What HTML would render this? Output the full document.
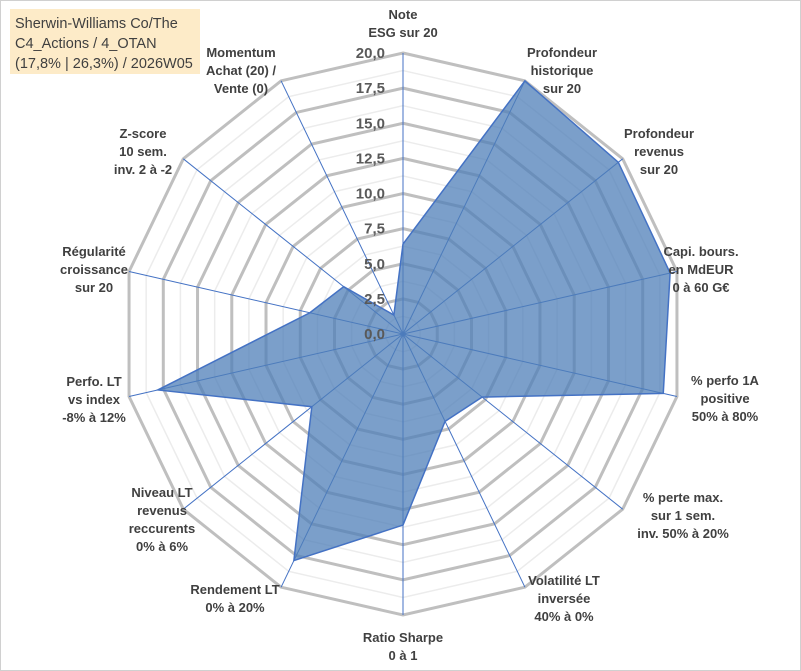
<!DOCTYPE html>
<html><head><meta charset="utf-8"><style>
body{margin:0;background:#fff;}
svg{display:block;font-family:"Liberation Sans",sans-serif;}
</style></head><body>
<svg id="chart" width="801" height="671">
<rect x="0.5" y="0.5" width="800" height="670" fill="#fff" stroke="#d0d0d0"/>
<g id="grid"></g><g id="axes"></g><g id="series"></g><g id="ticks"></g><g id="labels"></g>
<rect x="10" y="9" width="190" height="65" fill="#fdebc8"/>
<text x="15" y="28" font-size="14.5" fill="#404040">Sherwin-Williams Co/The</text>
<text x="15" y="48" font-size="14.5" fill="#404040">C4_Actions / 4_OTAN</text>
<text x="15" y="68" font-size="14.5" fill="#404040">(17,8% | 26,3%) / 2026W05</text>
</svg>
<script>
const categories=[["Note","ESG sur 20"],["Profondeur","historique","sur 20"],["Profondeur","revenus","sur 20"],["Capi. bours.","en MdEUR","0 à 60 G€"],["% perfo 1A","positive","50% à 80%"],["% perte max.","sur 1 sem.","inv. 50% à 20%"],["Volatilité LT","inversée","40% à 0%"],["Ratio Sharpe","0 à 1"],["Rendement LT","0% à 20%"],["Niveau LT","revenus","reccurents","0% à 6%"],["Perfo. LT","vs index","-8% à 12%"],["Régularité","croissance","sur 20"],["Z-score","10 sem.","inv. 2 à -2"],["Momentum","Achat (20) /","Vente (0)"]];
const values=[6.4,20,19.6,19.5,19,7.2,6.9,13.6,17.9,8.3,17.9,6.8,5.4,1.5];
const tickLabels=["0,0","2,5","5,0","7,5","10,0","12,5","15,0","17,5","20,0"];
const tickValues=[0,2.5,5,7.5,10,12.5,15,17.5,20];
const labelPos=[[403,14],[562,52],[659,133],[701,251],[725,380],[683,497],[564,580],[403,637],[235,589],[162,492],[94,381],[94,251],[143,133],[241,52]];
const NS="http://www.w3.org/2000/svg";
const cx=403,cy=334,R=281,maxV=20,n=categories.length;
function ang(i){return i*2*Math.PI/n;}
function pt(i,v){const r=v/maxV*R,a=ang(i);return [cx+r*Math.sin(a),cy-r*Math.cos(a)];}
function mk(tag,attrs,parent){const e=document.createElementNS(NS,tag);for(const k in attrs)e.setAttribute(k,attrs[k]);parent.appendChild(e);return e;}
const grid=document.getElementById('grid');
for(let k=1;k<=16;k++){const v=k*1.25;const major=k%2===0;
 const p=[];for(let i=0;i<n;i++)p.push(pt(i,v).join(','));
 const e=mk('polygon',{points:p.join(' '),fill:'none',stroke:major?'#bfbfbf':'#ececec','stroke-width':major?3:1.5},grid);
 
 }
const axes=document.getElementById('axes');
for(let i=0;i<n;i++){const [x,y]=pt(i,maxV);
 const e=mk('line',{x1:cx,y1:cy,x2:x,y2:y,stroke:'#4472c4','stroke-width':1},axes);
 
 }
const series=document.getElementById('series');
const sp=values.map((v,i)=>pt(i,v).join(',')).join(' ');
const poly=mk('polygon',{points:sp,fill:'#4f7fb8','fill-opacity':0.75,stroke:'#4472c4','stroke-width':1.5},series);


const ticks=document.getElementById('ticks');
tickValues.forEach((v,i)=>{const y=cy-v/maxV*R;
 const t=mk('text',{x:385,y:y+5,'text-anchor':'end','font-size':15,'font-weight':'bold',fill:'#595959'},ticks);
 t.textContent=tickLabels[i];
 
 });
const labels=document.getElementById('labels');
categories.forEach((lines,i)=>{const [x,y]=labelPos[i];
 const t=mk('text',{x:x,y:y+5,'text-anchor':'middle','font-size':13,'font-weight':'bold',fill:'#404040'},labels);
 
 
 lines.forEach((l,j)=>{const s=mk('tspan',{x:x,dy:j===0?0:18},t);s.textContent=l;});});
</script>
</body></html>
